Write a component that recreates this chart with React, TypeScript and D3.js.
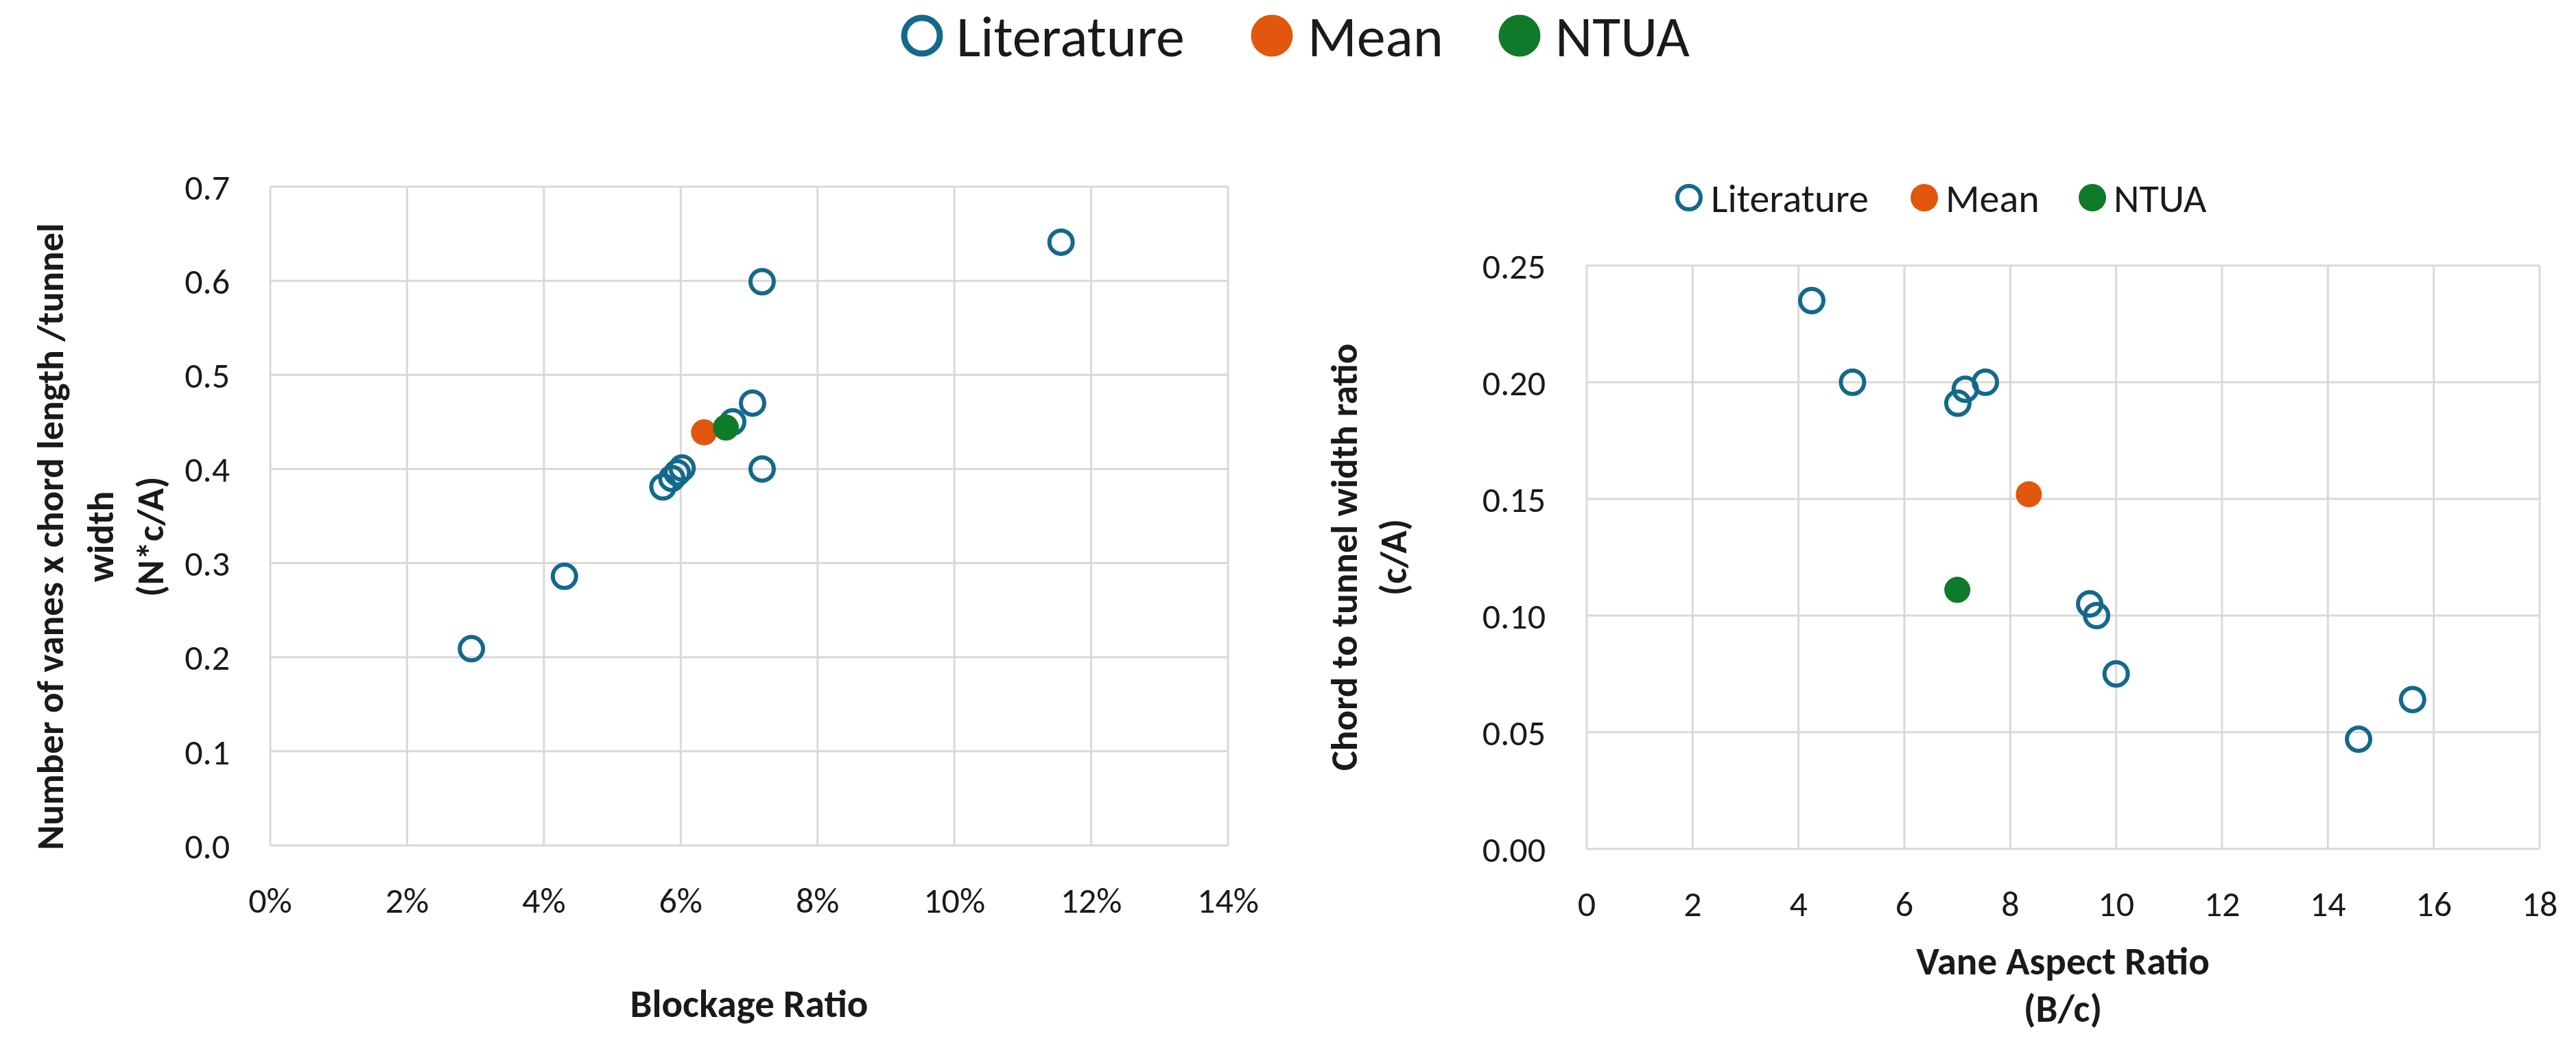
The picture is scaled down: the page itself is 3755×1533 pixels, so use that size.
import React from "react";
import * as d3 from "d3";

// ---- Data ----
const seriesNames = ["Literature", "Mean", "NTUA"];

// Left chart: Blockage ratio vs N*c/A
const leftLitX = [0.0294, 0.043, 0.0574, 0.0587, 0.0595, 0.0602, 0.0676, 0.0705, 0.0719, 0.0719, 0.1156];
const leftLitY = [0.209, 0.286, 0.381, 0.39, 0.396, 0.401, 0.45, 0.47, 0.599, 0.4, 0.641];
const leftMeanX = [0.0634];
const leftMeanY = [0.439];
const leftNtuaX = [0.0666];
const leftNtuaY = [0.444];
const leftXTicks = [0, 0.02, 0.04, 0.06, 0.08, 0.1, 0.12, 0.14];
const leftYTicks = [0, 0.1, 0.2, 0.3, 0.4, 0.5, 0.6, 0.7];

// Right chart: Vane aspect ratio vs c/A
const rightLitX = [4.25, 5.02, 7.01, 7.15, 7.53, 9.5, 9.63, 10.0, 14.58, 15.6];
const rightLitY = [0.235, 0.2, 0.191, 0.197, 0.2, 0.105, 0.1, 0.075, 0.047, 0.064];
const rightMeanX = [8.35];
const rightMeanY = [0.152];
const rightNtuaX = [7.0];
const rightNtuaY = [0.111];
const rightXTicks = [0, 2, 4, 6, 8, 10, 12, 14, 16, 18];
const rightYTicks = [0, 0.05, 0.1, 0.15, 0.2, 0.25];

// ---- Styles ----
const TEAL = "#14698B";
const ORANGE = "#E0570D";
const GREEN = "#0F7A29";
const GRID = "#D9D9D9";
const TEXT = "#1a1a1a";
const FONT = "Carlito, Calibri, Lato, sans-serif";
const XTITLE = 57;
const YTITLE = 55;

type Pt = { x: number; y: number };
const zip = (xs: number[], ys: number[]): Pt[] => xs.map((x, i) => ({ x, y: ys[i] }));

function Scatter(props: {
  x: d3.ScaleLinear<number, number>;
  y: d3.ScaleLinear<number, number>;
  xTicks: number[];
  yTicks: number[];
  xFmt: (v: number) => string;
  yFmt: (v: number) => string;
  lit: Pt[];
  mean: Pt[];
  ntua: Pt[];
  xLabelY: number;
  yLabelX: number;
}) {
  const { x, y, xTicks, yTicks, xFmt, yFmt, lit, mean, ntua, xLabelY, yLabelX } = props;
  const [x0, x1] = x.range();
  const [y0, y1] = y.range();
  return (
    <g>
      {xTicks.map((t) => (
        <line key={"vx" + t} x1={x(t)} x2={x(t)} y1={y0} y2={y1} stroke={GRID} strokeWidth={3} />
      ))}
      {yTicks.map((t) => (
        <line key={"hy" + t} x1={x0} x2={x1} y1={y(t)} y2={y(t)} stroke={GRID} strokeWidth={3} />
      ))}
      {xTicks.map((t) => (
        <text key={"tx" + t} x={x(t)} y={xLabelY} textAnchor="middle" fontSize={52} fontFamily={FONT} fill={TEXT}>
          {xFmt(t)}
        </text>
      ))}
      {yTicks.map((t) => (
        <text key={"ty" + t} x={yLabelX} y={y(t)} dy="0.36em" textAnchor="end" fontSize={52} fontFamily={FONT} fill={TEXT}>
          {yFmt(t)}
        </text>
      ))}
      {lit.map((p, i) => (
        <circle key={"l" + i} cx={x(p.x)} cy={y(p.y)} r={17} fill="none" stroke={TEAL} strokeWidth={6} />
      ))}
      {mean.map((p, i) => (
        <circle key={"m" + i} cx={x(p.x)} cy={y(p.y)} r={19} fill={ORANGE} />
      ))}
      {ntua.map((p, i) => (
        <circle key={"n" + i} cx={x(p.x)} cy={y(p.y)} r={19} fill={GREEN} />
      ))}
    </g>
  );
}

function Legend(props: { items: { cx: number; tx: number }[]; cy: number; r: number; sw: number; fontSize: number }) {
  const { items, cy, r, sw, fontSize } = props;
  const colors = [TEAL, ORANGE, GREEN];
  return (
    <g>
      {items.map((it, i) => (
        <g key={i}>
          {i === 0 ? (
            <circle cx={it.cx} cy={cy} r={r} fill="none" stroke={colors[i]} strokeWidth={sw} />
          ) : (
            <circle cx={it.cx} cy={cy} r={r + sw / 2} fill={colors[i]} />
          )}
          <text x={it.tx} y={cy} dy="0.36em" fontSize={fontSize} fontFamily={FONT} fill={TEXT}>
            {seriesNames[i]}
          </text>
        </g>
      ))}
    </g>
  );
}

export default function App() {
  const lx = d3.scaleLinear().domain([0, 0.14]).range([394, 1790]);
  const ly = d3.scaleLinear().domain([0, 0.7]).range([1232, 272]);
  const rx = d3.scaleLinear().domain([0, 18]).range([2313, 3702]);
  const ry = d3.scaleLinear().domain([0, 0.25]).range([1237, 387]);

  const pct = d3.format(".0%");
  const f1 = d3.format(".1f");
  const f2 = d3.format(".2f");
  const fi = d3.format("d");

  return (
    <svg
      width={3755}
      height={1533}
      viewBox="0 0 3755 1533"
      style={{ position: "absolute", left: 0, top: 0, display: "block", background: "#fff" }}
    >
      <rect x={0} y={0} width={3755} height={1533} fill="#fff" />

      {/* Top legend */}
      <Legend
        items={[
          { cx: 1344, tx: 1394 },
          { cx: 1854, tx: 1906 },
          { cx: 2215, tx: 2267 },
        ]}
        cy={52}
        r={26}
        sw={9}
        fontSize={84}
      />

      {/* Left chart */}
      <Scatter
        x={lx}
        y={ly}
        xTicks={leftXTicks}
        yTicks={leftYTicks}
        xFmt={pct}
        yFmt={f1}
        lit={zip(leftLitX, leftLitY)}
        mean={zip(leftMeanX, leftMeanY)}
        ntua={zip(leftNtuaX, leftNtuaY)}
        xLabelY={1330}
        yLabelX={335}
      />
      <text x={1092} y={1482} textAnchor="middle" fontSize={XTITLE} fontWeight="bold" fontFamily={FONT} fill={TEXT}>
        Blockage Ratio
      </text>
      <g transform="translate(0,782) rotate(-90)">
        <text x={0} y={92} textAnchor="middle" fontSize={YTITLE} fontWeight="bold" fontFamily={FONT} fill={TEXT}>
          Number of vanes x chord length /tunnel
        </text>
        <text x={0} y={165} textAnchor="middle" fontSize={YTITLE} fontWeight="bold" fontFamily={FONT} fill={TEXT}>
          width
        </text>
        <text x={0} y={238} textAnchor="middle" fontSize={YTITLE} fontWeight="bold" fontFamily={FONT} fill={TEXT}>
          (N*c/A)
        </text>
      </g>

      {/* Right chart */}
      <Legend
        items={[
          { cx: 2462, tx: 2494 },
          { cx: 2805, tx: 2836 },
          { cx: 3050, tx: 3081 },
        ]}
        cy={288}
        r={17}
        sw={6}
        fontSize={58}
      />
      <Scatter
        x={rx}
        y={ry}
        xTicks={rightXTicks}
        yTicks={rightYTicks}
        xFmt={fi}
        yFmt={f2}
        lit={zip(rightLitX, rightLitY)}
        mean={zip(rightMeanX, rightMeanY)}
        ntua={zip(rightNtuaX, rightNtuaY)}
        xLabelY={1335}
        yLabelX={2253}
      />
      <text x={3007} y={1420} textAnchor="middle" fontSize={XTITLE} fontWeight="bold" fontFamily={FONT} fill={TEXT}>
        Vane Aspect Ratio
      </text>
      <text x={3007} y={1489} textAnchor="middle" fontSize={XTITLE} fontWeight="bold" fontFamily={FONT} fill={TEXT}>
        (B/c)
      </text>
      <g transform="translate(0,812) rotate(-90)">
        <text x={0} y={1978} textAnchor="middle" fontSize={YTITLE} fontWeight="bold" fontFamily={FONT} fill={TEXT}>
          Chord to tunnel width ratio
        </text>
        <text x={0} y={2050} textAnchor="middle" fontSize={YTITLE} fontWeight="bold" fontFamily={FONT} fill={TEXT}>
          (c/A)
        </text>
      </g>
    </svg>
  );
}
